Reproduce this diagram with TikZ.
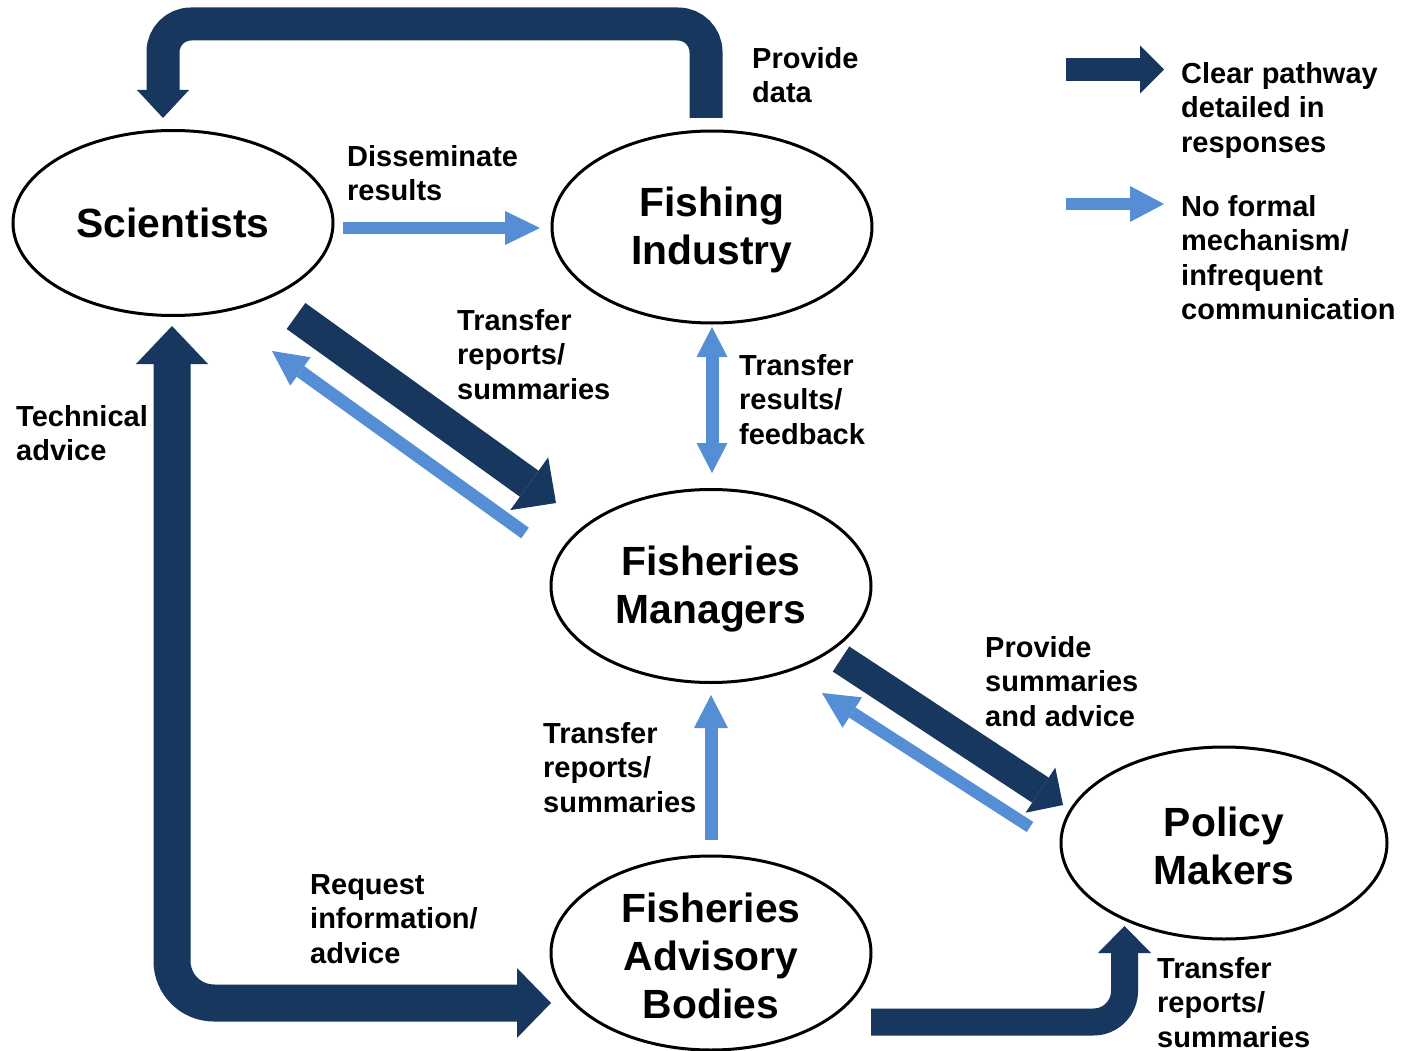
\documentclass[tikz,border=0pt]{standalone}
\usepackage{fontspec}
\setmainfont{Liberation Sans}
\usetikzlibrary{arrows.meta,shapes.geometric}
\definecolor{darkb}{HTML}{17375E}
\definecolor{lightb}{HTML}{558ED5}
\newcommand{\toppad}{\rule{0pt}{36pt}}
\begin{document}
\begin{tikzpicture}[x=1pt,y=-1pt,
  ell/.style={ellipse, draw, line width=3pt, minimum width=320pt, minimum height=192pt, inner sep=0pt, align=center, font=\fontsize{40.8}{48}\selectfont\bfseries},
  lbl/.style={anchor=north west, inner sep=0pt, align=left, font=\fontsize{29}{34.5}\selectfont\bfseries},
  dk/.style={draw=darkb, line width=#1},
  lt/.style={draw=lightb, line width=#1}]
\useasboundingbox[fill=white] (0,0) rectangle (1401,1051);

% nodes
\node[ell, minimum height=185pt] (sci) at (173,223) {Scientists};
\node[ell] (fi) at (712,227) {\toppad Fishing\\Industry};
\node[ell, minimum height=193pt] (fm) at (711,586) {\toppad Fisheries\\Managers};
\node[ell, minimum height=194pt] (fab) at (711,953) {\toppad Fisheries\\Advisory\\Bodies};
\node[ell, minimum width=326pt] (pm) at (1224,843) {\toppad Policy\\Makers};

% dark arrows
\draw[dk=33pt, rounded corners=28pt, -{Triangle[width=52pt,length=28pt,line width=0pt]}]
  ([shift={(-6,-109)}]fi.center) -- ++(0,-94) -| ([shift={(-10,-105)}]sci.center);
\draw[dk=37pt, rounded corners=42pt, {Triangle[width=72pt,length=38pt,line width=0pt]}-{Triangle[width=70pt,length=34pt,line width=0pt]}]
  ([shift={(-1,103)}]sci.center) |- ([shift={(-160,50)}]fab.center);
\draw[dk=32pt, -{Triangle[width=65pt,length=33pt,line width=0pt]}]
  ([shift={(123,93)}]sci.center) -- ([shift={(-155,-83)}]fm.center);
\draw[dk=30pt, -{Triangle[width=54pt,length=27pt,line width=0pt]}]
  ([shift={(130,73)}]fm.center) -- ([shift={(-161,-38)}]pm.center);
\draw[dk=27pt, rounded corners=31pt, -{Triangle[width=53pt,length=27pt,line width=0pt]}]
  ([shift={(160,69)}]fab.center) -| ([shift={(-99.5,83)}]pm.center);

% light arrows
\draw[lt=12pt, -{Triangle[width=34pt,length=35pt,line width=0pt]}]
  ([shift={(170,5)}]sci.center) -- ([shift={(-172,1)}]fi.center);
\draw[lt=13pt, -{Triangle[width=35pt,length=35pt,line width=0pt]}]
  ([shift={(-186,-53)}]fm.center) -- ([shift={(99,128)}]sci.center);
\draw[lt=13pt, {Triangle[width=31pt,length=30pt,line width=0pt]}-{Triangle[width=31pt,length=30pt,line width=0pt]}]
  ([shift={(0,100)}]fi.center) -- ([shift={(1,-113)}]fm.center);
\draw[lt=13pt, -{Triangle[width=34pt,length=33pt,line width=0pt]}]
  ([shift={(0,-113)}]fab.center) -- ([shift={(0,109)}]fm.center);
\draw[lt=12pt, -{Triangle[width=36pt,length=36pt,line width=0pt]}]
  ([shift={(-194,-16)}]pm.center) -- ([shift={(111,107)}]fm.center);

% labels
\node[lbl] (l1) at (752,47) {Provide\\data};
\node[lbl] (l2) at (347,145) {Disseminate\\results};
\node[lbl] (l3) at (457,309) {Transfer\\reports/\\summaries};
\node[lbl] (l4) at (739,354) {Transfer\\results/\\feedback};
\node[lbl] (l5) at (16,405) {Technical\\advice};
\node[lbl] (l6) at (985,636) {Provide\\summaries\\and advice};
\node[lbl] (l7) at (543,722) {Transfer\\reports/\\summaries};
\node[lbl] (l8) at (310,874) {Request\\information/\\advice};
\node[lbl] (l9) at (1157,957) {Transfer\\reports/\\summaries};

% legend
\node[lbl] (lg1) at (1181,62) {Clear pathway\\detailed in\\responses};
\node[lbl] (lg2) at (1181,195) {No formal\\mechanism/\\infrequent\\communication};
\coordinate (la1) at (1066,69.5);
\coordinate (lb1) at (1164,69.5);
\coordinate (la2) at (1066,204);
\coordinate (lb2) at (1164,204);
\draw[dk=23pt, -{Triangle[width=48pt,length=24pt,line width=0pt]}] (la1) -- (lb1);
\draw[lt=12pt, -{Triangle[width=36pt,length=34pt,line width=0pt]}] (la2) -- (lb2);
\end{tikzpicture}
\end{document}
